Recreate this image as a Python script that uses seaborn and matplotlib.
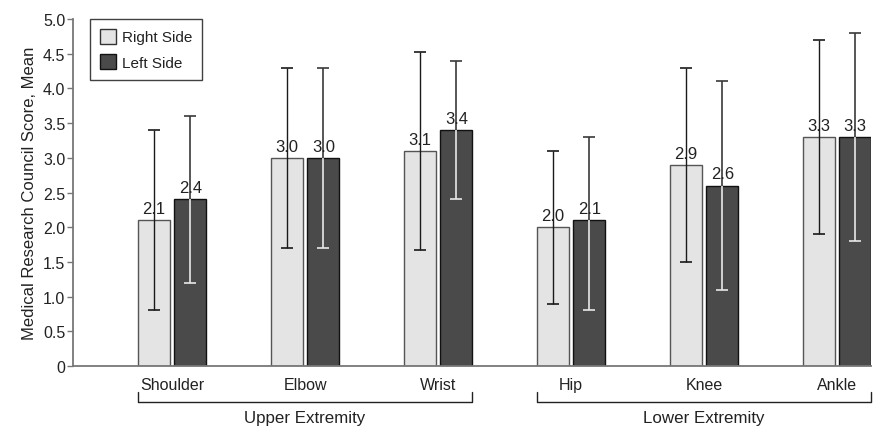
import matplotlib
matplotlib.use("Agg")
import matplotlib.pyplot as plt
import matplotlib.transforms as mtransforms
from matplotlib.patches import Patch
import numpy as np
import pandas as pd
import seaborn as sns

joints = ['Shoulder', 'Elbow', 'Wrist', 'Hip', 'Knee', 'Ankle']
groups = ['Upper Extremity', 'Lower Extremity']
sides = ['Right Side', 'Left Side']

right_mean = [2.1, 3.0, 3.1, 2.0, 2.9, 3.3]
right_low = [0.8, 1.7, 1.67, 0.9, 1.5, 1.9]
right_high = [3.4, 4.3, 4.52, 3.1, 4.3, 4.7]

left_mean = [2.4, 3.0, 3.4, 2.1, 2.6, 3.3]
left_low = [1.2, 1.7, 2.4, 0.8, 1.1, 1.8]
left_high = [3.6, 4.3, 4.4, 3.3, 4.1, 4.8]

light = '#e4e4e4'
dark = '#4a4a4a'

df = pd.DataFrame({
    'joint': joints * 2,
    'side': [sides[0]] * 6 + [sides[1]] * 6,
    'mean': right_mean + left_mean,
})

sns.set_style('white')
plt.rcParams['font.family'] = ['Liberation Sans', 'DejaVu Sans']
plt.rcParams['text.color'] = '#222222'

fig = plt.figure(figsize=(8.73, 4.27), dpi=100)
ax = fig.add_axes([0.0836, 0.1405, 0.914, 0.8126])

sns.barplot(data=df, x='joint', y='mean', hue='side', order=joints,
            hue_order=sides, palette=[light, dark], width=0.55, gap=0.13,
            errorbar=None, legend=False, ax=ax)

# bar edges
for p in ax.patches[:6]:
    p.set_edgecolor('#555555')
    p.set_linewidth(1.0)
for p in ax.patches[6:12]:
    p.set_edgecolor('#111111')
    p.set_linewidth(1.0)

r_bars = sorted(ax.patches[:6], key=lambda p: p.get_x())
l_bars = sorted(ax.patches[6:12], key=lambda p: p.get_x())

cap_ms = 9
for bars, means, lows, highs, side in [(r_bars, right_mean, right_low, right_high, 0),
                                       (l_bars, left_mean, left_low, left_high, 1)]:
    for p, m, lo, hi in zip(bars, means, lows, highs):
        xc = p.get_x() + p.get_width() / 2
        if side == 0:
            ax.vlines(xc, lo, hi, color='#1a1a1a', lw=1.0, zorder=4)
            ax.plot([xc, xc], [lo, hi], ls='none', marker='_', ms=cap_ms,
                    mew=1.2, color='#1a1a1a', zorder=4)
        else:
            ax.vlines(xc, m, hi, color='#3a3a3a', lw=1.2, zorder=4)
            ax.plot([xc], [hi], ls='none', marker='_', ms=cap_ms,
                    mew=1.2, color='#3a3a3a', zorder=4)
            ax.vlines(xc, lo, m, color='#e8e8e8', lw=1.2, zorder=4)
            ax.plot([xc], [lo], ls='none', marker='_', ms=cap_ms,
                    mew=1.2, color='#e8e8e8', zorder=4)
        ax.annotate(f'{m:.1f}', (xc, m), xytext=(0, 3), textcoords='offset points',
                    ha='center', va='bottom', fontsize=12, color='#222222', zorder=5)

ax.set_ylim(0, 5)
ax.set_xlim(-0.745, 5.255)
ax.set_yticks(np.arange(0, 5.01, 0.5))
ax.set_yticklabels(['0'] + [f'{v:.1f}' for v in np.arange(0.5, 5.01, 0.5)])
ax.set_xlabel('')
ax.set_ylabel('Medical Research Council Score, Mean', fontsize=12,
              color='#222222', labelpad=4)

sns.despine(ax=ax, top=True, right=True)
for s in ['left', 'bottom']:
    ax.spines[s].set_color('#777777')
    ax.spines[s].set_linewidth(1.3)
ax.tick_params(axis='y', which='major', left=True, length=4, width=1,
               color='#777777', labelsize=11.5, labelcolor='#222222', pad=1.5)
ax.tick_params(axis='x', length=0, labelsize=11.5, labelcolor='#222222', pad=8)

# group brackets
trans = mtransforms.blended_transform_factory(ax.transData, ax.transAxes)
for gi, g in enumerate(groups):
    x0 = r_bars[gi * 3].get_x()
    x1 = l_bars[gi * 3 + 2].get_x() + l_bars[gi * 3 + 2].get_width()
    ax.plot([x0, x0, x1, x1], [-0.075, -0.104, -0.104, -0.075], color='#222222',
            lw=1.0, transform=trans, clip_on=False)
    ax.text((x0 + x1) / 2, -0.148, g, transform=trans, ha='center', va='center',
            fontsize=12.2, color='#222222')

handles = [Patch(facecolor=light, edgecolor='#333333', label=sides[0]),
           Patch(facecolor=dark, edgecolor='#111111', label=sides[1])]
leg = ax.legend(handles=handles, loc='upper left', bbox_to_anchor=(0.021, 1.0),
                frameon=True, fancybox=False, fontsize=11, handlelength=1.1,
                handleheight=1.1, handletextpad=0.35, borderpad=0.65,
                labelspacing=0.65, borderaxespad=0)
leg.get_frame().set_edgecolor('#111111')
leg.get_frame().set_linewidth(1.0)

fig.savefig('out.png', dpi=100)
